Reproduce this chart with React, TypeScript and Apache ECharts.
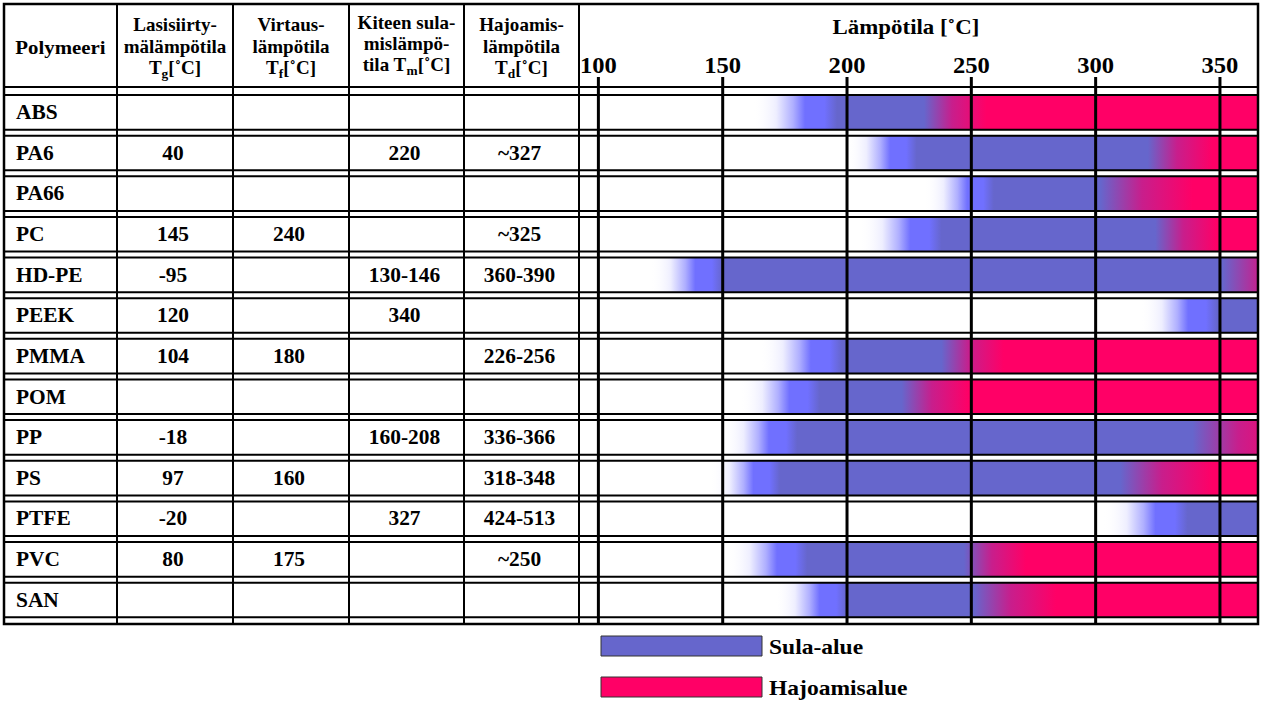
import React, { useEffect, useRef } from "react";
import * as echarts from "echarts";

// ---------- data ----------
const polymers = ["ABS", "PA6", "PA66", "PC", "HD-PE", "PEEK", "PMMA", "POM", "PP", "PS", "PTFE", "PVC", "SAN"];
const tg = ["", "40", "", "145", "-95", "120", "104", "", "-18", "97", "-20", "80", ""];
const tf = ["", "", "", "240", "", "", "180", "", "", "160", "", "175", ""];
const tm = ["", "220", "", "", "130-146", "340", "", "", "160-208", "", "327", "", ""];
const td = ["", "~327", "", "~325", "360-390", "", "226-256", "", "336-366", "318-348", "424-513", "~250", ""];

// melt range (Sula-alue): where fading starts and where it is fully melt-blue
const meltFadeStart = [162, 200, 231, 205, 121, 318, 165, 157, 150, 145, 303, 152, 171];
const meltSolid = [196, 228, 259, 238, 150, 349, 198, 189, 180, 173, 337, 184, 200];
// decomposition range (Hajoamisalue): transition start and fully decomposed
const decompStart: (number | null)[] = [231, 321, 302, 324, 351, null, 238, 222, 339, 310, null, 247, 251];
const decompSolid: (number | null)[] = [256, 347, 339, 349, 385, null, 263, 249, 380, 347, null, 272, 284];

const tickValues = [100, 150, 200, 250, 300, 350];
const axisMin = 92.2;
const axisMax = 365.3;

const headerLines = [
  ["Polymeeri"],
  ["Lasisiirty-", "mälämpötila", "{n|T}{s|g}{n|[˚C]}"],
  ["Virtaus-", "lämpötila", "{n|T}{s|f}{n|[˚C]}"],
  ["Kiteen sula-", "mislämpö-", "{n|tila T}{s|m}{n|[˚C]}"],
  ["Hajoamis-", "lämpötila", "{n|T}{s|d}{n|[˚C]}"],
];
const titleText = "Lämpötila [˚C]";
const legendNames = ["Sula-alue", "Hajoamisalue"];

// ---------- layout / style ----------
const FONT = '"Liberation Serif", "Times New Roman", serif';
const SX = 1.07;
const LEFT = 4, RIGHT = 1258, TOP = 4, BOTTOM = 624;
const colLines = [117, 233, 349, 464, 579];
const colCenters = [175, 291, 406.5, 521.5];
const GRID_TOP = 92;
const BAND = 40.64;

type RGBA = [number, number, number, number];
const WHITE0: RGBA = [255, 255, 255, 0];
const PALE: RGBA = [238, 238, 255, 1];
const LIGHT: RGBA = [175, 175, 255, 1];
const BRIGHT: RGBA = [112, 112, 255, 1];
const BLUE: RGBA = [102, 102, 204, 1];
const PURPLE: RGBA = [200, 30, 140, 1];
const PINK: RGBA = [255, 0, 102, 1];

const rgba = (c: RGBA) => `rgba(${Math.round(c[0])},${Math.round(c[1])},${Math.round(c[2])},${c[3]})`;
const lerp = (a: RGBA, b: RGBA, t: number): RGBA =>
  [0, 1, 2, 3].map((k) => a[k] + (b[k] - a[k]) * t) as RGBA;

function stopsFor(i: number) {
  const s = meltFadeStart[i];
  const m = meltSolid[i];
  const pts: [number, RGBA][] = [
    [s, WHITE0],
    [s + 0.28 * (m - s), PALE],
    [s + 0.48 * (m - s), LIGHT],
    [s + 0.62 * (m - s), BRIGHT],
    [s + 0.85 * (m - s), BRIGHT],
    [m, BLUE],
  ];
  const ds = decompStart[i];
  const de = decompSolid[i];
  if (ds != null && de != null) {
    pts.push([ds, BLUE], [ds + 0.45 * (de - ds), PURPLE], [de, PINK]);
  }
  const span = axisMax - s;
  const out: { offset: number; color: string }[] = [];
  for (let k = 0; k < pts.length; k++) {
    const [t, c] = pts[k];
    if (t <= axisMax) {
      out.push({ offset: (t - s) / span, color: rgba(c) });
    } else {
      const [tp, cp] = pts[k - 1];
      const f = (axisMax - tp) / (t - tp);
      out.push({ offset: 1, color: rgba(lerp(cp, c, f)) });
      break;
    }
  }
  return out;
}

const txtStyle = (text: string, size: number, align: string) => ({
  text,
  fontSize: size,
  fontWeight: "bold",
  fontFamily: FONT,
  fill: "#000",
  align,
  verticalAlign: "middle",
  textAlign: align,
  textVerticalAlign: "middle",
});

export default function App() {
  const ref = useRef<HTMLDivElement>(null);

  useEffect(() => {
    document.body.style.margin = "0";
    if (!ref.current) return;
    const chart = echarts.init(ref.current, undefined, { renderer: "svg" });

    const graphic: any[] = [];
    // outer border
    graphic.push({
      type: "rect",
      z: 100,
      shape: { x: LEFT, y: TOP, width: RIGHT - LEFT, height: BOTTOM - TOP },
      style: { fill: "none", stroke: "#000", lineWidth: 2.5 },
    });
    colLines.forEach((x) =>
      graphic.push({
        type: "line",
        z: 100,
        shape: { x1: x, y1: TOP, x2: x, y2: BOTTOM },
        style: { stroke: "#000", lineWidth: 2 },
      })
    );
    graphic.push({
      type: "line",
      z: 100,
      shape: { x1: LEFT, y1: 87, x2: RIGHT, y2: 87 },
      style: { stroke: "#000", lineWidth: 2 },
    });
    // header texts
    const headerX = [60.5, ...colCenters];
    headerLines.forEach((lines, c) => {
      const ys = lines.length === 1 ? [47] : c === 3 ? [23, 44, 65] : [25, 47, 68];
      lines.forEach((l, k) => {
        graphic.push({
          type: "text",
          z: 100,
          x: headerX[c],
          y: ys[k],
          scaleX: c === 0 ? SX : 1.03,
          style: {
            ...txtStyle(l, c === 0 ? 19.5 : 18.5, "center"),
            rich: {
              n: { fontSize: 18.5, fontWeight: "bold", fontFamily: FONT, lineHeight: 24, verticalAlign: "middle" },
              s: { fontSize: 13, fontWeight: "bold", fontFamily: FONT, lineHeight: 12, verticalAlign: "bottom" },
            },
          },
        });
      });
    });
    // title
    graphic.push({
      type: "text",
      z: 100,
      x: 906,
      y: 27,
      scaleX: 1.04,
      style: txtStyle(titleText, 22, "center"),
    });
    // legend
    const legendColors = [rgba(BLUE), rgba(PINK)];
    const legendY = [636, 677];
    legendNames.forEach((name, k) => {
      graphic.push({
        type: "rect",
        z: 100,
        shape: { x: 601, y: legendY[k], width: 161, height: 20 },
        style: { fill: legendColors[k], stroke: "#333", lineWidth: 1 },
      });
      graphic.push({
        type: "text",
        z: 100,
        x: 769,
        y: legendY[k] + 11,
        scaleX: SX,
        style: txtStyle(name, 22, "left"),
      });
    });

    const rowData = polymers.map((_, i) => [meltFadeStart[i], i]);

    const option: any = {
      animation: false,
      backgroundColor: "#fff",
      grid: { left: 579, top: GRID_TOP, width: RIGHT - 579, height: BAND * polymers.length, containLabel: false },
      xAxis: { type: "value", min: axisMin, max: axisMax, show: false },
      yAxis: { type: "category", data: polymers, inverse: true, show: false },
      graphic,
      series: [
        {
          type: "custom",
          name: "bars",
          z: 2,
          data: rowData,
          encode: { x: 0, y: 1 },
          renderItem: (params: any, api: any) => {
            const i = params.dataIndex;
            const cs = params.coordSys;
            const band = cs.height / polymers.length;
            const start = api.coord([meltFadeStart[i], i]);
            const end = api.coord([axisMax, i]);
            const top = start[1] - band / 2 + 3;
            return {
              type: "rect",
              shape: { x: start[0], y: top, width: end[0] - start[0], height: band - 6 },
              style: { fill: new echarts.graphic.LinearGradient(0, 0, 1, 0, stopsFor(i)) },
            };
          },
        },
        {
          type: "custom",
          name: "rows",
          z: 3,
          data: rowData,
          encode: { x: 0, y: 1 },
          renderItem: (params: any, api: any) => {
            const i = params.dataIndex;
            const cs = params.coordSys;
            const band = cs.height / polymers.length;
            const c = api.coord([axisMin, i]);
            const top = c[1] - band / 2;
            const bottom = c[1] + band / 2;
            const ln = (y: number) => ({
              type: "line",
              shape: { x1: LEFT, y1: y, x2: RIGHT, y2: y },
              style: { stroke: "#000", lineWidth: 2 },
            });
            const children: any[] = [ln(top + 3), ln(bottom - 3)];
            children.push({ type: "text", x: 16, y: c[1], scaleX: SX, style: txtStyle(polymers[i], 20, "left") });
            [tg[i], tf[i], tm[i], td[i]].forEach((v, k) => {
              if (v)
                children.push({
                  type: "text",
                  x: colCenters[k] - 2,
                  y: c[1],
                  scaleX: SX,
                  style: txtStyle(v, 20, "center"),
                });
            });
            return { type: "group", children };
          },
        },
        {
          type: "custom",
          name: "ticks",
          z: 4,
          data: tickValues.map((v) => [v, 0]),
          encode: { x: 0, y: 1 },
          renderItem: (params: any, api: any) => {
            const v = tickValues[params.dataIndex];
            const cs = params.coordSys;
            const x = api.coord([v, 0])[0];
            return {
              type: "group",
              children: [
                {
                  type: "line",
                  shape: { x1: x, y1: cs.y - 15, x2: x, y2: BOTTOM },
                  style: { stroke: "#000", lineWidth: 3 },
                },
                { type: "text", x, y: cs.y - 27, scaleX: SX, style: txtStyle(String(v), 23, "center") },
              ],
            };
          },
        },
      ],
    };

    chart.setOption(option);
    return () => chart.dispose();
  }, []);

  return <div ref={ref} style={{ width: 1263, height: 702 }} />;
}
